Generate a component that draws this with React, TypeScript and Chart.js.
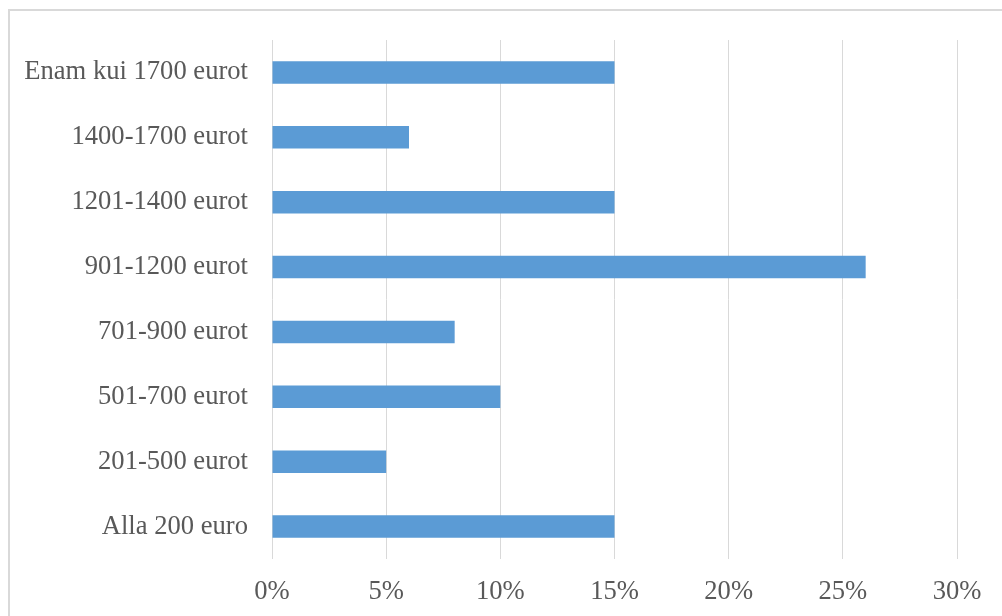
import React, { useEffect, useRef } from "react";
import { Chart, registerables } from "chart.js";

Chart.register(...registerables);

// Income groups, listed top to bottom
const categories = [
  "Enam kui 1700 eurot",
  "1400-1700 eurot",
  "1201-1400 eurot",
  "901-1200 eurot",
  "701-900 eurot",
  "501-700 eurot",
  "201-500 eurot",
  "Alla 200 euro",
];

// Share of respondents, percent
const shares = [15, 6, 15, 26, 8, 10, 5, 15];

// Value axis range and step
const axisMin = 0;
const axisMax = 30;
const axisStep = 5;

const FONT = "'Liberation Serif', 'Times New Roman', serif";
const FONT_SIZE = 26.6;
const TEXT = "#595959";
const GRID = "#d9d9d9";
const BAR = "#5b9bd5";

export default function App() {
  const canvasRef = useRef<HTMLCanvasElement | null>(null);

  useEffect(() => {
    if (!canvasRef.current) return;
    const chart = new Chart(canvasRef.current, {
      type: "bar",
      data: {
        labels: categories,
        datasets: [
          {
            data: shares,
            backgroundColor: BAR,
            borderWidth: 0,
            categoryPercentage: 1,
            barPercentage: 0.345,
          },
        ],
      },
      options: {
        indexAxis: "y",
        animation: false,
        responsive: false,
        layout: { padding: { left: 0, top: 29, right: 49, bottom: 0 } },
        plugins: {
          legend: { display: false },
          tooltip: { enabled: false },
        },
        scales: {
          x: {
            min: axisMin,
            max: axisMax,
            border: { display: false },
            grid: { color: GRID, lineWidth: 1, drawTicks: false },
            ticks: {
              stepSize: axisStep,
              padding: 17,
              color: TEXT,
              font: { family: FONT, size: FONT_SIZE },
              callback: (v) => `${v}%`,
            },
            afterFit: (scale) => {
              scale.height = 72;
            },
          },
          y: {
            border: { display: false },
            grid: { display: false, drawTicks: false },
            ticks: {
              padding: 24,
              color: TEXT,
              font: { family: FONT, size: FONT_SIZE },
            },
            afterFit: (scale) => {
              scale.width = 262;
              // keep the label gap from pushing the plot area down
              scale.paddingTop = 0;
              scale.paddingBottom = 0;
            },
          },
        },
      },
    });
    return () => chart.destroy();
  }, []);

  return (
    <div
      style={{
        position: "fixed",
        left: 8,
        top: 9,
        width: 996,
        height: 620,
        border: `2px solid ${GRID}`,
        background: "#fff",
      }}
    >
      <canvas ref={canvasRef} width={996} height={620} style={{ display: "block" }} />
    </div>
  );
}
